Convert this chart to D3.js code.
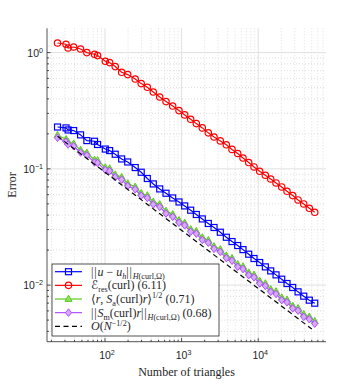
<!DOCTYPE html>
<html><head><meta charset="utf-8">
<script src="https://cdn.jsdelivr.net/npm/d3@7"></script>
<style>html,body{margin:0;padding:0;background:#fff;}svg{display:block;}</style>
</head><body>
<script>
// ---- data ----
const triangles = [24,31,33,39,48,58,73,80,101,115,136,165,198,248,297,357,427,518,626,765,925,1097,1314,1556,1863,2231,2650,3201,3836,4550,5399,6333,7518,8818,10460,12390,14560,17080,20270,23770,28200,33110,39290,46460,54680];
const errExact = [0.229,0.225,0.216,0.2135,0.196,0.175,0.1727,0.162,0.148,0.1436,0.1336,0.1217,0.1146,0.1026,0.0935,0.0826,0.0742,0.0672,0.0617,0.0562,0.0519,0.0480,0.0441,0.0405,0.0371,0.0339,0.0313,0.0285,0.0258,0.0237,0.0219,0.0202,0.01844,0.01694,0.01564,0.01435,0.01325,0.01225,0.01124,0.01032,0.00954,0.00875,0.00803,0.00742,0.00699];
const errRes = [1.209,1.179,1.095,1.117,1.074,1.000,0.967,0.942,0.842,0.820,0.758,0.677,0.647,0.592,0.541,0.503,0.458,0.415,0.379,0.347,0.317,0.291,0.267,0.245,0.225,0.204,0.188,0.174,0.161,0.147,0.1355,0.124,0.1133,0.1038,0.0953,0.0881,0.0818,0.0756,0.0699,0.0641,0.0589,0.0540,0.0499,0.0458,0.0423];
const errSa = [0.1945,0.1795,0.1702,0.1645,0.1450,0.1372,0.1193,0.1182,0.1026,0.1006,0.0892,0.0848,0.0748,0.0700,0.0617,0.0590,0.0520,0.0495,0.0434,0.0406,0.0361,0.0343,0.0302,0.0291,0.02568,0.02430,0.02154,0.02030,0.01792,0.01702,0.01509,0.01444,0.01280,0.01225,0.01086,0.01033,0.00920,0.00881,0.00780,0.00748,0.00662,0.00633,0.00561,0.00534,0.00489];
const errSm = [0.1852,0.1712,0.1620,0.1566,0.1382,0.1307,0.1136,0.1125,0.0977,0.0958,0.0849,0.0808,0.0712,0.0667,0.0588,0.0562,0.0495,0.0471,0.0413,0.0387,0.0344,0.0327,0.0288,0.0277,0.02446,0.02314,0.02051,0.01933,0.01707,0.01621,0.01437,0.01375,0.01219,0.01167,0.01034,0.00984,0.00876,0.00839,0.00743,0.00712,0.00630,0.00603,0.00534,0.00509,0.00466];
const refN = [24, 50000];
const refVal = [0.1908, 0.00419];
const xTicks = [100, 1000, 10000];
const yTicks = [0.01, 0.1, 1];

const W = 360, H = 384;
const svg = d3.select('body').append('svg').attr('width', W).attr('height', H);
const L = 47, R = 326, T = 28.3, B = 341.7;
const x = d3.scaleLog().domain([17.5, 76700]).range([L, R]);
const y = d3.scaleLog().domain([0.00326, 1.618]).range([B, T]);
const axisCol = '#262626';
const serif = '"Liberation Serif", "DejaVu Serif", serif';
const dsans = '"DejaVu Sans", sans-serif';
const sans = '"Liberation Sans", Arial, sans-serif';

// minor ticks
const xMinor = [], yMinor = [];
for (let e = 1; e <= 4; e++) for (let m = 2; m <= 9; m++) { const v = m * Math.pow(10, e); if (v > 17.5 && v < 76700) xMinor.push(v); }
for (let e = -3; e <= 0; e++) for (let m = 2; m <= 9; m++) { const v = m * Math.pow(10, e); if (v > 0.00326 && v < 1.618) yMinor.push(v); }

// grid
const g = svg.append('g');
g.selectAll('.xmin').data(xMinor).join('line').attr('x1', d => x(d)).attr('x2', d => x(d)).attr('y1', T).attr('y2', B)
  .attr('stroke', '#d4d4d4').attr('stroke-width', 0.8).attr('stroke-dasharray', '1,2');
g.selectAll('.ymin').data(yMinor).join('line').attr('y1', d => y(d)).attr('y2', d => y(d)).attr('x1', L).attr('x2', R)
  .attr('stroke', '#d4d4d4').attr('stroke-width', 0.8).attr('stroke-dasharray', '1,2');
g.selectAll('.xmaj').data(xTicks).join('line').attr('x1', d => x(d)).attr('x2', d => x(d)).attr('y1', T).attr('y2', B)
  .attr('stroke', '#e0e0e0').attr('stroke-width', 1);
g.selectAll('.ymaj').data(yTicks).join('line').attr('y1', d => y(d)).attr('y2', d => y(d)).attr('x1', L).attr('x2', R)
  .attr('stroke', '#e0e0e0').attr('stroke-width', 1);

// axes lines & ticks
const ax = svg.append('g').attr('stroke', axisCol).attr('stroke-width', 0.8);
ax.append('line').attr('x1', L).attr('x2', L).attr('y1', T).attr('y2', B);
ax.append('line').attr('x1', L).attr('x2', R).attr('y1', B).attr('y2', B);
xTicks.forEach(v => ax.append('line').attr('x1', x(v)).attr('x2', x(v)).attr('y1', B).attr('y2', B - 3.5));
xMinor.forEach(v => ax.append('line').attr('x1', x(v)).attr('x2', x(v)).attr('y1', B).attr('y2', B - 2));
yTicks.forEach(v => ax.append('line').attr('y1', y(v)).attr('y2', y(v)).attr('x1', L).attr('x2', L + 3.5));
yMinor.forEach(v => ax.append('line').attr('y1', y(v)).attr('y2', y(v)).attr('x1', L).attr('x2', L + 2));

function rich(sel, px, py, segs, size, family, anchor) {
  const t = sel.append('text').attr('x', px).attr('y', py).attr('font-family', family)
    .attr('font-size', size).attr('fill', axisCol).attr('text-anchor', anchor || 'start');
  let cur = 0;
  segs.forEach(s => {
    const off = s.p === 'sub' ? 0.26 * size : s.p === 'sup' ? -0.38 * size : 0;
    const ts = t.append('tspan').attr('dy', off - cur).text(s.t);
    cur = off;
    if (s.i) ts.attr('font-style', 'italic');
    if (s.p) ts.attr('font-size', (s.sz || 0.68) * size);
    if (s.f) ts.attr('font-family', s.f);
    if (s.ls) ts.attr('letter-spacing', s.ls);
  });
  return t;
}
const expo = v => Math.round(Math.log10(v));
xTicks.forEach(v => rich(svg, x(v) + 2, 358.5, [{t: '10'}, {t: String(expo(v)).replace('-', '\u2212'), p: 'sup'}], 10.5, sans, 'middle'));
yTicks.forEach(v => rich(svg, 43, y(v) + 4, [{t: '10'}, {t: String(expo(v)).replace('-', '\u2212'), p: 'sup'}], 10.5, sans, 'end'));

svg.append('text').attr('x', (L + R) / 2).attr('y', 376).attr('text-anchor', 'middle').attr('font-family', serif)
  .attr('font-size', 12).attr('fill', axisCol).text('Number of triangles');
svg.append('text').attr('transform', `translate(16,${(T + B) / 2}) rotate(-90)`).attr('text-anchor', 'middle')
  .attr('font-family', serif).attr('font-size', 12).attr('fill', axisCol).text('Error');

// series
const series = [
  {v: errExact, c: '#0000ff', m: 'square', fill: '#ffffff'},
  {v: errRes, c: '#ff0000', m: 'circle', fill: '#ffffff'},
  {v: errSa, c: '#5ccc1f', m: 'triangle', fill: '#8fe05c'},
  {v: errSm, c: '#b050ff', m: 'diamond', fill: '#d6a8ff'}
];
const line = d3.line().x(d => x(d[0])).y(d => y(d[1]));
function marker(sel, type, cx, cy, c, fill) {
  if (type === 'square') sel.append('rect').attr('x', cx - 3).attr('y', cy - 3).attr('width', 6).attr('height', 6)
    .attr('fill', 'none').attr('stroke', c).attr('stroke-width', 1.2);
  else if (type === 'circle') sel.append('circle').attr('cx', cx).attr('cy', cy).attr('r', 3.2)
    .attr('fill', 'none').attr('stroke', c).attr('stroke-width', 1.2);
  else if (type === 'triangle') sel.append('path').attr('d', `M${cx},${cy - 3.8}L${cx + 3.5},${cy + 2.4}L${cx - 3.5},${cy + 2.4}Z`)
    .attr('fill', fill).attr('stroke', c).attr('stroke-width', 1);
  else if (type === 'diamond') sel.append('path').attr('d', `M${cx},${cy - 3.8}L${cx + 3},${cy}L${cx},${cy + 3.8}L${cx - 3},${cy}Z`)
    .attr('fill', fill).attr('stroke', c).attr('stroke-width', 1);
}
series.forEach(s => {
  const pts = triangles.map((n, i) => [n, s.v[i]]);
  const gg = svg.append('g');
  gg.append('path').datum(pts).attr('d', line).attr('fill', 'none').attr('stroke', s.c).attr('stroke-width', 1.2);
  pts.forEach(p => marker(gg, s.m, x(p[0]), y(p[1]), s.c, s.fill));
});
svg.append('path').datum(refN.map((n, i) => [n, refVal[i]])).attr('d', line).attr('fill', 'none')
  .attr('stroke', '#000').attr('stroke-width', 1.2).attr('stroke-dasharray', '5,3.5');

// legend
const lg = svg.append('g');
lg.append('rect').attr('x', 52).attr('y', 264).attr('width', 167).attr('height', 72)
  .attr('fill', '#fff').attr('stroke', axisCol).attr('stroke-width', 0.8);
const nrm = {t: '||', ls: 0.8};
const labels = [
  [nrm, {t: 'u', i: 1}, {t: ' \u2212 '}, {t: 'u', i: 1}, {t: 'h', i: 1, p: 'sub'}, nrm, {t: 'H', i: 1, p: 'sub'}, {t: '(curl,\u03A9)', p: 'sub'}],
  [{t: '\u2130', f: dsans}, {t: 'res', p: 'sub'}, {t: '(curl)  (6.11)'}],
  [{t: '\u27E8', f: dsans}, {t: 'r', i: 1}, {t: ', '}, {t: 'S', i: 1}, {t: 'a', p: 'sub'}, {t: '(curl)'}, {t: 'r', i: 1}, {t: '\u27E9', f: dsans}, {t: '1/2', p: 'sup'}, {t: '  (0.71)'}],
  [nrm, {t: 'S', i: 1}, {t: 'm', p: 'sub'}, {t: '(curl)'}, {t: 'r', i: 1}, nrm, {t: 'H', i: 1, p: 'sub'}, {t: '(curl,\u03A9)', p: 'sub'}, {t: '  (0.68)'}],
  [{t: 'O', i: 1}, {t: '('}, {t: 'N', i: 1}, {t: '\u22121/2', p: 'sup'}, {t: ')'}]
];
const legendSeries = series.concat([{c: '#000', m: null, dash: true}]);
legendSeries.forEach((s, i) => {
  const cy = 271.7 + i * 13.65;
  lg.append('line').attr('x1', 55).attr('x2', 82).attr('y1', cy).attr('y2', cy).attr('stroke', s.c)
    .attr('stroke-width', 1.2).attr('stroke-dasharray', s.dash ? '5,3.5' : null);
  if (s.m) marker(lg, s.m, 68.5, cy, s.c, s.fill);
  rich(lg, 91, cy + 4, labels[i], 12, serif, 'start');
});
</script>
</body></html>
